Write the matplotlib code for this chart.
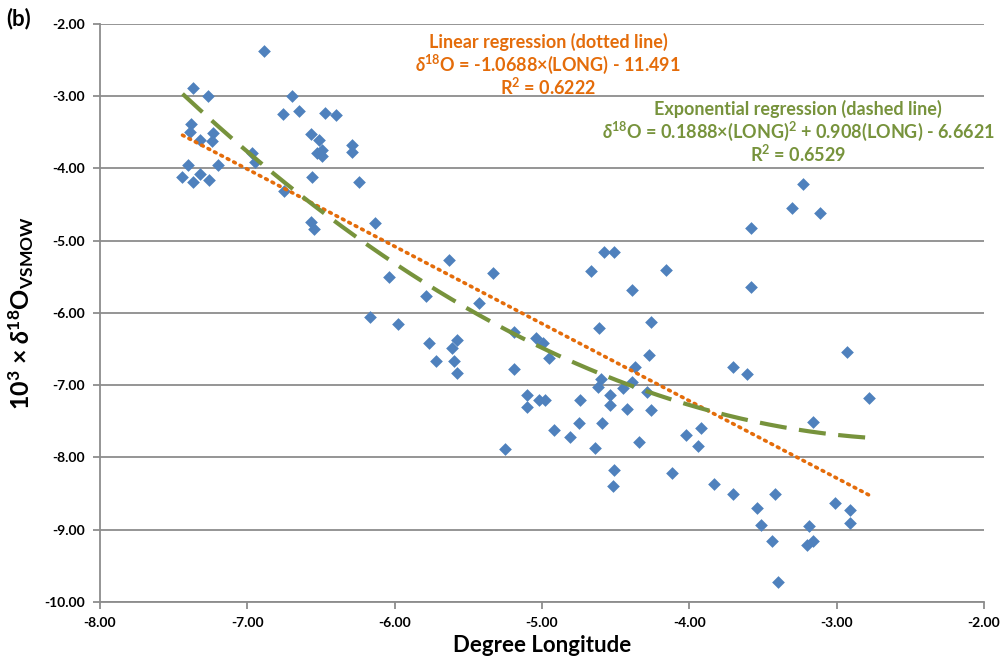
import numpy as np
import matplotlib
matplotlib.use("Agg")
import matplotlib.pyplot as plt

plt.rcParams['font.family'] = ['Lato', 'DejaVu Sans']
plt.rcParams['mathtext.fontset'] = 'custom'
plt.rcParams['mathtext.rm'] = 'Lato:bold'
plt.rcParams['mathtext.it'] = 'Lato:bold:italic'
plt.rcParams['mathtext.bf'] = 'Lato:bold'

longitude = [
    -6.89, -7.37, -7.27, -6.70, -6.76, -6.65, -6.47, -6.40,
    -7.38, -7.39, -7.23, -7.32, -7.24, -6.57, -6.51, -6.49,
    -6.53, -6.49, -6.29, -6.29, -6.97, -6.95, -7.40, -7.20,
    -7.44, -7.32, -7.37, -7.26, -6.56, -6.24, -6.75, -6.57,
    -6.55, -6.13, -6.04, -6.17, -5.98, -5.63, -5.33, -5.79,
    -5.43, -5.77, -5.58, -5.61, -5.72, -5.60, -5.58, -5.19,
    -5.19, -5.04, -4.99, -4.95, -4.58, -4.51, -4.67, -4.39,
    -4.16, -4.61, -4.26, -4.27, -4.37, -4.60, -4.62, -4.54,
    -4.54, -4.45, -4.39, -4.29, -4.42, -4.26, -5.10, -5.10,
    -5.02, -4.98, -4.74, -4.92, -4.81, -4.75, -4.59, -4.64,
    -5.25, -4.51, -4.52, -4.34, -4.12, -4.02, -3.92, -3.94,
    -3.23, -3.30, -3.11, -3.58, -3.58, -2.93, -3.70, -3.61,
    -2.78, -3.16, -3.83, -3.70, -3.42, -3.54, -3.51, -3.44,
    -3.40, -3.19, -3.20, -3.16, -3.01, -2.91, -2.91,
]
d18o = [
    -2.38, -2.89, -3.00, -3.00, -3.25, -3.20, -3.23, -3.26,
    -3.39, -3.49, -3.51, -3.61, -3.62, -3.52, -3.61, -3.74,
    -3.79, -3.83, -3.68, -3.77, -3.78, -3.91, -3.95, -3.95,
    -4.12, -4.08, -4.19, -4.16, -4.12, -4.19, -4.31, -4.74,
    -4.84, -4.76, -5.50, -6.06, -6.15, -5.27, -5.45, -5.77,
    -5.86, -6.41, -6.37, -6.48, -6.66, -6.66, -6.83, -6.27,
    -6.77, -6.35, -6.41, -6.62, -5.15, -5.16, -5.42, -5.68,
    -5.40, -6.21, -6.12, -6.58, -6.75, -6.92, -7.03, -7.14,
    -7.27, -7.04, -6.96, -7.09, -7.33, -7.34, -7.13, -7.30,
    -7.20, -7.20, -7.20, -7.62, -7.72, -7.52, -7.52, -7.87,
    -7.88, -8.18, -8.40, -7.78, -8.21, -7.69, -7.59, -7.84,
    -4.21, -4.55, -4.62, -4.82, -5.64, -6.54, -6.75, -6.84,
    -7.18, -7.51, -8.37, -8.51, -8.51, -8.70, -8.93, -9.15,
    -9.72, -8.95, -9.21, -9.15, -8.63, -8.73, -8.91,
]

# trendline coefficients as printed on the chart
lin_coef = [-1.0688, -11.491]
quad_coef = [0.1888, 0.908, -6.6621]

x_ticks = [-8, -7, -6, -5, -4, -3, -2]
y_ticks = [-10, -9, -8, -7, -6, -5, -4, -3, -2]

blue = '#4F81BD'
orange = '#E46C0A'
green = '#77933C'
grid_gray = '#8C8C8C'

fig = plt.figure(figsize=(10.05, 6.64), dpi=100)
ax = fig.add_axes([0.0995, 0.0934, 0.8795, 0.8705])

ax.scatter(longitude, d18o, marker='D', s=42, color=blue, zorder=3, linewidths=0)

xs = np.linspace(min(longitude), max(longitude), 200)
ax.plot(xs, np.polyval(lin_coef, xs), color=orange, lw=2.6,
        linestyle=(0, (0.5, 1.5)), dash_capstyle='round', zorder=4)
ax.plot(xs, np.polyval(quad_coef, xs), color=green, lw=3,
        linestyle=(0, (6.5, 3)), zorder=4)

ax.set_xlim(-8, -2)
ax.set_ylim(-10, -2)
ax.set_xticks(x_ticks)
ax.set_yticks(y_ticks)
ax.set_xticklabels([f'{v:.2f}' for v in x_ticks], fontsize=10, fontweight='bold')
ax.set_yticklabels([f'{v:.2f}' for v in y_ticks], fontsize=10, fontweight='bold')
ax.yaxis.grid(True, color=grid_gray, lw=1.3)
ax.set_axisbelow(True)
for s in ['top', 'right']:
    ax.spines[s].set_visible(False)
for s in ['left', 'bottom']:
    ax.spines[s].set_color(grid_gray)
    ax.spines[s].set_linewidth(1.3)
ax.tick_params(axis='both', direction='out', length=5, color=grid_gray, width=1.3, pad=6)

ax.set_xlabel('Degree Longitude', fontsize=16, fontweight='bold', labelpad=4)
ax.set_ylabel(r'$\mathrm{10^3}$ × $\it{\delta}$$\mathrm{^{18}O_{VSMOW}}$',
              fontsize=18, fontweight='bold', labelpad=6)

fig.text(0.006, 0.972, '(b)', fontsize=16, fontweight='bold', va='center')

txt = dict(transform=ax.transAxes, fontsize=13, fontweight='bold', ha='center', va='center')
ax.text(0.507, 0.969, 'Linear regression (dotted line)', color=orange, **txt)
ax.text(0.507, 0.930, r'$\it{\delta}$$\mathrm{^{18}}$O = -1.0688×(LONG) - 11.491', color=orange, **txt)
ax.text(0.507, 0.891, r'R$\mathrm{^2}$ = 0.6222', color=orange, **txt)

ax.text(0.79, 0.853, 'Exponential regression (dashed line)', color=green, **txt)
ax.text(0.79, 0.814, r'$\it{\delta}$$\mathrm{^{18}}$O = 0.1888×(LONG)$\mathrm{^2}$ + 0.908(LONG) - 6.6621',
        color=green, **txt)
ax.text(0.79, 0.775, r'R$\mathrm{^2}$ = 0.6529', color=green, **txt)

fig.savefig('out.png', dpi=100)
